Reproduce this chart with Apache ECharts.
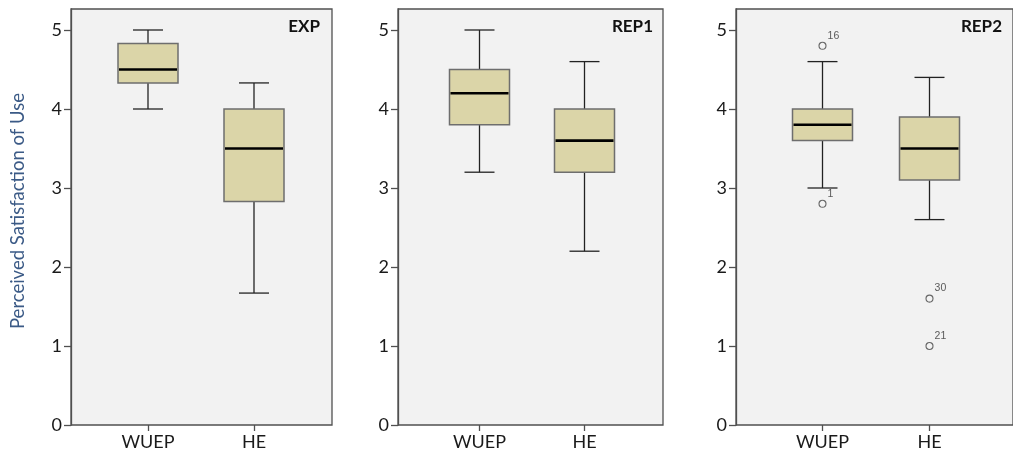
<!DOCTYPE html>
<html>
<head>
<meta charset="utf-8">
<script src="https://cdn.jsdelivr.net/npm/echarts@6/dist/echarts.min.js"></script>
<style>
html,body{margin:0;padding:0;background:#fff;}
#c{width:1013px;height:458px;}
</style>
</head>
<body>
<div id="c"></div>
<script>
// ---- data ----
var categories = ['WUEP', 'HE'];
var panelNames = ['EXP', 'REP1', 'REP2'];
var yTicks = [0, 1, 2, 3, 4, 5];
// [low whisker, Q1, median, Q3, high whisker]
var expBoxes  = [[4.00, 4.33, 4.50, 4.83, 5.00], [1.67, 2.83, 3.50, 4.00, 4.33]];
var rep1Boxes = [[3.20, 3.80, 4.20, 4.50, 5.00], [2.20, 3.20, 3.60, 4.00, 4.60]];
var rep2Boxes = [[3.00, 3.60, 3.80, 4.00, 4.60], [2.60, 3.10, 3.50, 3.90, 4.40]];
// outliers: [category index, value, case id]
var expOutliers = [];
var rep1Outliers = [];
var rep2Outliers = [[0, 4.80, '16'], [0, 2.80, '1'], [1, 1.60, '30'], [1, 1.00, '21']];
var yTitle = 'Perceived Satisfaction of Use';

var allBoxes = [expBoxes, rep1Boxes, rep2Boxes];
var allOutliers = [expOutliers, rep1Outliers, rep2Outliers];

// ---- layout ----
var frames = [{left: 71, width: 261}, {left: 398, width: 265}, {left: 736, width: 280}];
var inner = [{left: 95, width: 212}, {left: 427, width: 210}, {left: 769, width: 214}];
var titleRight = [693, 360, 11];
var TOP = 9, BOTTOM = 33, YMAX = 416 / 79;
var FONT = 'Lato, "Open Sans", sans-serif';

var chart = echarts.init(document.getElementById('c'), null, {renderer: 'canvas'});

var grids = [], xAxes = [], yAxes = [], series = [], titles = [];

frames.forEach(function (f, i) {
  // frame grid
  grids.push({left: f.left, width: f.width, top: TOP, bottom: BOTTOM, show: true,
    backgroundColor: '#f2f2f2', borderColor: '#505050', borderWidth: 1.3});
  xAxes.push({type: 'value', gridIndex: 2 * i, show: false, min: 0, max: 1});
  yAxes.push({type: 'value', gridIndex: 2 * i, min: 0, max: YMAX,
    axisLine: {show: true, lineStyle: {color: '#505050', width: 1.3}},
    axisTick: {show: true, length: 7, customValues: yTicks, lineStyle: {color: '#505050', width: 1.3}},
    axisLabel: {show: true, customValues: yTicks, margin: 9, fontSize: 18, fontFamily: FONT, color: '#1a1a1a'},
    splitLine: {show: false}});
  // inner grid for categories
  var g = inner[i];
  grids.push({left: g.left, width: g.width, top: TOP, bottom: BOTTOM, show: false});
  xAxes.push({type: 'category', gridIndex: 2 * i + 1, data: categories, boundaryGap: true,
    axisLine: {show: false},
    axisTick: {show: true, alignWithLabel: true, length: 6, lineStyle: {color: '#505050', width: 1.3}},
    axisLabel: {margin: 8, fontSize: 18, fontFamily: FONT, color: '#1a1a1a'}});
  yAxes.push({type: 'value', gridIndex: 2 * i + 1, min: 0, max: YMAX, show: false});

  var boxData = allBoxes[i].map(function (b, k) { return [k].concat(b); });
  series.push({
    type: 'custom', xAxisIndex: 2 * i + 1, yAxisIndex: 2 * i + 1,
    data: boxData, encode: {x: 0, y: [1, 2, 3, 4, 5]},
    renderItem: function (params, api) {
      var c = api.value(0);
      var pLow = api.coord([c, api.value(1)]);
      var pQ1 = api.coord([c, api.value(2)]);
      var pMed = api.coord([c, api.value(3)]);
      var pQ3 = api.coord([c, api.value(4)]);
      var pHigh = api.coord([c, api.value(5)]);
      var x = pMed[0], bw = 60, cw = 30;
      var line = {stroke: '#222', lineWidth: 1.3};
      return {type: 'group', children: [
        {type: 'line', shape: {x1: x, y1: pLow[1], x2: x, y2: pQ1[1]}, style: line},
        {type: 'line', shape: {x1: x, y1: pQ3[1], x2: x, y2: pHigh[1]}, style: line},
        {type: 'line', shape: {x1: x - cw / 2, y1: pLow[1], x2: x + cw / 2, y2: pLow[1]}, style: line},
        {type: 'line', shape: {x1: x - cw / 2, y1: pHigh[1], x2: x + cw / 2, y2: pHigh[1]}, style: line},
        {type: 'rect', shape: {x: x - bw / 2, y: pQ3[1], width: bw, height: pQ1[1] - pQ3[1]},
          style: {fill: '#dbd5a8', stroke: '#6e6e6e', lineWidth: 1.5}},
        {type: 'line', shape: {x1: x - bw / 2 + 1, y1: pMed[1], x2: x + bw / 2 - 1, y2: pMed[1]},
          style: {stroke: '#000', lineWidth: 2.6}}
      ]};
    }
  });
  if (allOutliers[i].length) {
    series.push({
      type: 'scatter', xAxisIndex: 2 * i + 1, yAxisIndex: 2 * i + 1,
      data: allOutliers[i], symbol: 'circle', symbolSize: 7,
      itemStyle: {color: '#f2f2f2', borderColor: '#444', borderWidth: 1.1},
      label: {show: true, position: 'right', distance: 1, offset: [0, -10],
        formatter: function (p) { return p.value[2]; },
        fontSize: 10.5, fontFamily: '"Liberation Sans", Arial, sans-serif', color: '#333'}
    });
  }
  titles.push({text: panelNames[i], right: titleRight[i], top: 18, padding: 0,
    textStyle: {fontSize: 17, fontWeight: 'bold', fontFamily: FONT, color: '#111'}});
});

chart.setOption({
  animation: false,
  backgroundColor: '#fff',
  title: titles,
  grid: grids,
  xAxis: xAxes,
  yAxis: yAxes,
  series: series,
  graphic: [{type: 'text', x: 18, y: 211, rotation: Math.PI / 2,
    style: {text: yTitle, textAlign: 'center', textVerticalAlign: 'middle',
      fontSize: 18.5, fontFamily: FONT, fill: '#3b5a86'}}]
});
</script>
</body>
</html>
